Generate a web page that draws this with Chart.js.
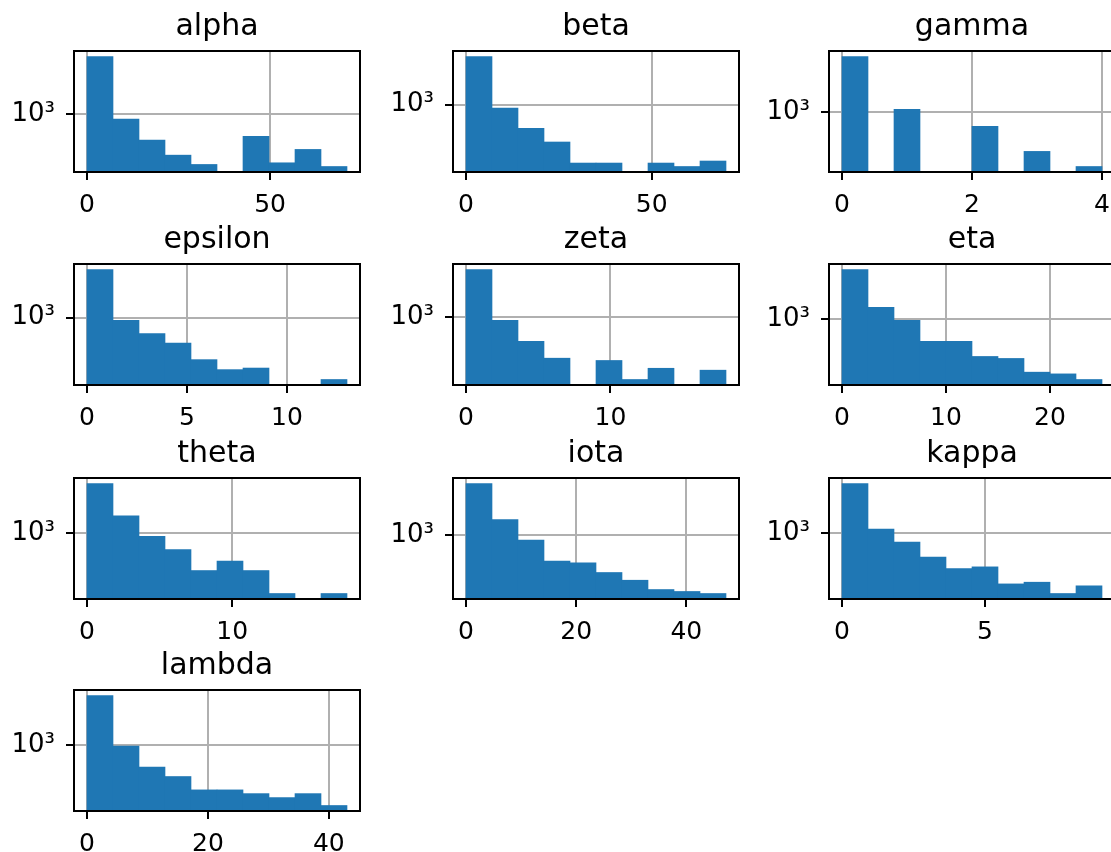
<!DOCTYPE html>
<html>
<head>
<meta charset="utf-8">
<title>Histograms</title>
<script src="https://cdn.jsdelivr.net/npm/chart.js@4.4.1/dist/chart.umd.min.js"></script>
<style>
  html, body { margin: 0; padding: 0; background: #fff; overflow: hidden; }
  #grid { position: relative; width: 1111px; height: 852px; overflow: hidden; }
  #grid canvas { position: absolute; }
</style>
</head>
<body>
<div id="grid"></div>
<script>
// ---- data ----
const names = ['alpha', 'beta', 'gamma', 'epsilon', 'zeta', 'eta', 'theta', 'iota', 'kappa', 'lambda'];

// counts per bin (10 bins each), 0 = empty bin
const alphaCounts   = [4335, 880, 514, 350, 276, 0, 565, 288, 405, 262];
const betaCounts    = [3415, 918, 546, 385, 225, 225, 0, 225, 206, 237];
const gammaCounts   = [4157, 0, 1080, 0, 0, 699, 0, 369, 0, 251];
const epsilonCounts = [3415, 934, 664, 523, 342, 265, 276, 0, 0, 206];
const zetaCounts    = [3388, 926, 541, 353, 0, 333, 205, 273, 0, 260];
const etaCounts     = [3532, 1349, 966, 565, 565, 385, 366, 258, 247, 214];
const thetaCounts   = [3565, 1559, 926, 659, 385, 489, 385, 214, 0, 214];
const iotaCounts    = [3751, 1494, 880, 514, 493, 385, 316, 249, 237, 225];
const kappaCounts   = [3532, 1098, 788, 537, 401, 419, 271, 283, 212, 258];
const lambdaCounts  = [3565, 975, 570, 449, 319, 319, 290, 262, 290, 214];

// data range of each column (histogram goes from min to max in 10 bins)
const dataMin = [0, 0, 0, 0, 0, 0, 0, 0, 0, 0];
const dataMax = [71, 70, 4, 13, 18, 25, 17.9, 47.2, 9.1, 43];

// tick labels
const xTicks = [[0, 50], [0, 50], [0, 2, 4], [0, 5, 10], [0, 10], [0, 10, 20], [0, 10], [0, 20, 40], [0, 5], [0, 20, 40]];
const yTicks = [1000];

const allCounts = [alphaCounts, betaCounts, gammaCounts, epsilonCounts, zetaCounts,
                   etaCounts, thetaCounts, iotaCounts, kappaCounts, lambdaCounts];

// ---- layout ----
const colLeft = [0, 379, 755];
const rowTop = [0, 213, 427, 639];
const AX_W = 286, AX_H = 121, Y_W = 74, TITLE_H = 51, X_H = 50;
const CANVAS_W = Y_W + AX_W + 10, CANVAS_H = TITLE_H + AX_H + X_H;

const sup = { '0': '⁰', '1': '¹', '2': '²', '3': '³', '4': '⁴', '5': '⁵', '6': '⁶', '7': '⁷', '8': '⁸', '9': '⁹' };
const fmtPow = (v) => '10' + String(Math.round(Math.log10(v))).split('').map(c => sup[c] || c).join('');

// top + right spines
const framePlugin = {
  id: 'frame',
  afterDraw(chart){
    const a = chart.chartArea, ctx = chart.ctx;
    ctx.save();
    ctx.strokeStyle = '#000';
    ctx.lineWidth = 2;
    ctx.strokeRect(a.left, a.top, a.right - a.left, a.bottom - a.top);
    ctx.restore();
  }
};

const FONT = "'DejaVu Sans', sans-serif";
const grid = document.getElementById('grid');

names.forEach((name, i) => {
  const counts = allCounts[i];
  const lo = dataMin[i], hi = dataMax[i];
  const w = (hi - lo) / counts.length;
  const points = counts.map((c, k) => ({ x: lo + w * (k + 0.5), y: c > 0 ? c : null }));

  const pos = counts.filter(c => c > 0);
  const lmin = Math.log10(Math.min(...pos)), lmax = Math.log10(Math.max(...pos));
  const span = lmax - lmin;
  const xr = hi - lo;

  const cv = document.createElement('canvas');
  cv.width = CANVAS_W; cv.height = CANVAS_H;
  cv.style.width = CANVAS_W + 'px'; cv.style.height = CANVAS_H + 'px';
  cv.style.left = colLeft[i % 3] + 'px';
  cv.style.top = rowTop[Math.floor(i / 3)] + 'px';
  grid.appendChild(cv);

  new Chart(cv.getContext('2d'), {
    type: 'bar',
    data: {
      datasets: [{
        label: name,
        data: points,
        backgroundColor: '#1f77b4',
        borderWidth: 0,
        barPercentage: 1,
        categoryPercentage: 1
      }]
    },
    options: {
      responsive: false,
      animation: false,
      devicePixelRatio: 1,
      layout: { padding: { left: 0, right: 10, top: 0, bottom: 0 } },
      plugins: {
        legend: { display: false },
        tooltip: { enabled: false },
        title: {
          display: true,
          text: name,
          fullSize: false,
          color: '#000',
          font: { family: FONT, size: 30, weight: 'normal', lineHeight: 1.2 },
          padding: { top: 9.5, bottom: 5.5 }
        }
      },
      scales: {
        x: {
          type: 'linear',
          offset: false,
          min: lo - 0.05 * xr,
          max: hi + 0.05 * xr,
          z: 1,
          afterBuildTicks: (s) => { s.ticks = xTicks[i].map(v => ({ value: v })); },
          afterFit: (s) => { s.height = X_H; },
          grid: { offset: false, color: '#b0b0b0', lineWidth: 2, tickColor: '#000', tickLength: 8, tickWidth: 2 },
          border: { display: true, color: '#000', width: 2 },
          ticks: { autoSkip: false, maxRotation: 0, color: '#000', padding: 10, font: { family: FONT, size: 25 },
                   callback: (v) => String(v) }
        },
        y: {
          type: 'logarithmic',
          beginAtZero: false,
          min: Math.pow(10, lmin - 0.05 * span),
          max: Math.pow(10, lmax + 0.05 * span),
          z: 1,
          afterBuildTicks: (s) => { s.ticks = yTicks.map(v => ({ value: v })); },
          afterFit: (s) => { s.width = Y_W; },
          grid: { color: '#b0b0b0', lineWidth: 2, tickColor: '#000', tickLength: 8, tickWidth: 2 },
          border: { display: true, color: '#000', width: 2 },
          ticks: { autoSkip: false, color: '#000', padding: 11, font: { family: FONT, size: 26 },
                   callback: (v) => fmtPow(v) }
        }
      }
    },
    plugins: [framePlugin]
  });
});
</script>
</body>
</html>
